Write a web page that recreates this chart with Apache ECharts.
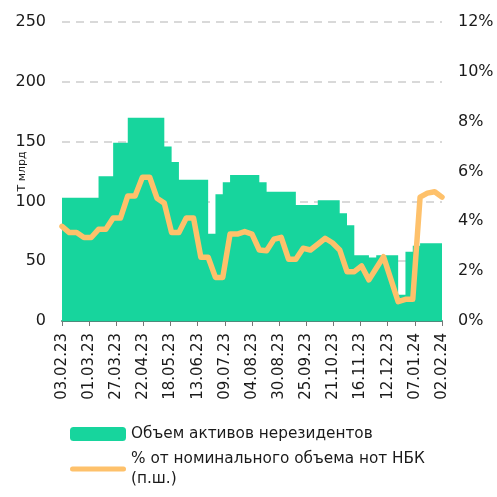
<!DOCTYPE html>
<html>
<head>
<meta charset="utf-8">
<script src="https://cdn.jsdelivr.net/npm/echarts@6/dist/echarts.min.js"></script>
<style>
html,body{margin:0;padding:0;background:#fff;}
#chart{width:497px;height:497px;}
</style>
</head>
<body>
<div id="chart"></div>
<script>
// Tick labels of the date axis (one every 26 days)
const tickLabels = ['03.02.23','01.03.23','27.03.23','22.04.23','18.05.23','13.06.23','09.07.23','04.08.23','30.08.23','25.09.23','21.10.23','16.11.23','12.12.23','07.01.24','02.02.24'];
const tickStepDays = 26;
// Weekly observations: 53 weeks starting 03.02.23
// Объем активов нерезидентов (left axis, Т млрд)
const assets = [103,103,103,103,103,121,121,149,149,170,170,170,170,170,146,133,118,118,118,118,73,106,116,122,122,122,122,116,108,108,108,108,97,97,97,101,101,101,90,80,55,55,53,55,55,55,22,58,63,65,65,65,64];
// % от номинального объема нот НБК (right axis)
const share = [3.8,3.55,3.55,3.35,3.35,3.68,3.68,4.13,4.13,5.02,5.02,5.77,5.77,4.93,4.73,3.55,3.55,4.13,4.13,2.56,2.56,1.75,1.75,3.49,3.49,3.59,3.49,2.85,2.82,3.28,3.36,2.48,2.48,2.92,2.85,3.08,3.32,3.14,2.85,1.98,1.98,2.21,1.65,2.12,2.58,1.68,0.78,0.87,0.87,4.97,5.13,5.19,4.97];
const seriesNames = ['Объем активов нерезидентов', '% от номинального объема нот НБК (п.ш.)'];
const leftAxisName = 'Т млрд';

const weekDay = i => i * 7;
const assetsData = assets.map((v, i) => [weekDay(i), v]);
const shareData = share.map((v, i) => [weekDay(i), v]);

const FONT = 'DejaVu Sans';
const GREEN = '#17d59d';
const ORANGE = '#fec16b';

const chart = echarts.init(document.getElementById('chart'), null, {renderer: 'canvas'});
chart.setOption({
  animation: false,
  backgroundColor: '#ffffff',
  grid: {left: 62, right: 55, top: 22, bottom: 176, containLabel: false, outerBoundsMode: 'none'},
  legend: [
    {
      orient: 'vertical',
      left: 70,
      top: 424,
      padding: 0,
      itemWidth: 56,
      itemHeight: 14,
      textStyle: {fontFamily: FONT, fontSize: 15.3, color: '#1a1a1a', lineHeight: 20},
      data: [{name: seriesNames[0], icon: 'roundRect'}]
    },
    {
      orient: 'vertical',
      left: 70,
      top: 439,
      padding: 0,
      itemWidth: 56,
      itemHeight: 14,
      symbolKeepAspect: true,
      formatter: name => name.replace(' (п.ш.)', '\n(п.ш.)'),
      textStyle: {fontFamily: FONT, fontSize: 15.3, color: '#1a1a1a', lineHeight: 20, padding: [20, 0, 0, 0]},
      data: [{name: seriesNames[1], icon: 'path://M2.5,0 H53.5 A2.5,2.5 0 0 1 53.5,5 H2.5 A2.5,2.5 0 0 1 2.5,0 Z'}]
    }
  ],
  xAxis: {
    type: 'value',
    min: 0,
    max: (tickLabels.length - 1) * tickStepDays,
    interval: tickStepDays,
    axisLine: {show: true, onZero: false, lineStyle: {color: '#4f8a7c', width: 2}},
    axisTick: {show: true, length: 5, lineStyle: {color: '#777', width: 1}},
    splitLine: {show: false},
    axisLabel: {
      rotate: 90,
      margin: 12,
      fontFamily: FONT,
      fontSize: 15,
      color: '#1a1a1a',
      formatter: v => tickLabels[Math.round(v / tickStepDays)] || ''
    }
  },
  yAxis: [
    {
      type: 'value',
      min: 0, max: 250, interval: 50,
      name: leftAxisName,
      nameLocation: 'middle',
      nameGap: 34,
      nameMoveOverlap: false,
      nameTextStyle: {fontFamily: FONT, fontSize: 11, color: '#1a1a1a'},
      axisLine: {show: false},
      axisTick: {show: false},
      axisLabel: {margin: 16, fontFamily: FONT, fontSize: 16, color: '#1a1a1a'},
      splitLine: {show: true, lineStyle: {color: '#d9d9d9', width: 2, type: [8, 6]}}
    },
    {
      type: 'value',
      min: 0, max: 12, interval: 2,
      axisLine: {show: false},
      axisTick: {show: false},
      axisLabel: {margin: 16, fontFamily: FONT, fontSize: 16, color: '#1a1a1a', formatter: '{value}%'},
      splitLine: {show: false}
    }
  ],
  series: [
    {
      name: seriesNames[0],
      type: 'line',
      step: 'end',
      data: assetsData,
      symbol: 'none',
      itemStyle: {color: GREEN},
      lineStyle: {width: 0, color: GREEN},
      areaStyle: {color: GREEN, opacity: 1},
      z: 2
    },
    {
      name: seriesNames[1],
      type: 'line',
      yAxisIndex: 1,
      data: shareData,
      symbol: 'none',
      itemStyle: {color: ORANGE},
      lineStyle: {width: 5.5, color: ORANGE, join: 'round', cap: 'round'},
      z: 3
    }
  ]
});
</script>
</body>
</html>
